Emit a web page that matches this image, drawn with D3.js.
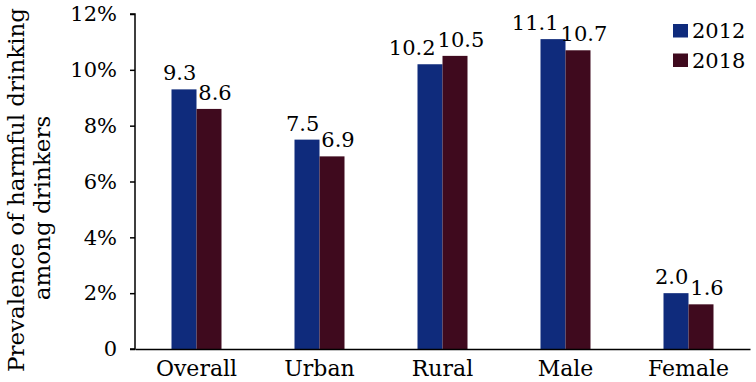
<!DOCTYPE html>
<html>
<head>
<meta charset="utf-8">
<script src="https://cdn.jsdelivr.net/npm/d3@7"></script>
<style>
  body { margin: 0; background: #fff; }
  svg text { font-family: "DejaVu Serif", serif; fill: #000; }
</style>
</head>
<body>
<div id="chart"></div>
<script>
'use strict';

// data
const categories = ['Overall', 'Urban', 'Rural', 'Male', 'Female'];
const years = ['2012', '2018'];
const values2012 = [9.3, 7.5, 10.2, 11.1, 2.0];
const values2018 = [8.6, 6.9, 10.5, 10.7, 1.6];
const yTicks = [0, 2, 4, 6, 8, 10, 12];
const colors = ['#0f2b7c', '#3f0a1e'];

const svgWidth = 756, svgHeight = 382;
const margin = [14, 33, 135, 6]; // top, bottom, left, right
const chartWidth = svgWidth - margin[2] - margin[3];
const chartHeight = svgHeight - margin[0] - margin[1];

const svg = d3.select('#chart').append('svg')
    .attr('width', svgWidth)
    .attr('height', svgHeight);

const chart = svg.append('g')
    .attr('transform', `translate(${margin[2]},${margin[0]})`);

const scaleX = d3.scaleBand(categories, [0, chartWidth]);
const scaleY = d3.scaleLinear([0, 12], [chartHeight, 0]);
const barW = 25;
const numSize = '21px', wordSize = '22px';

// bars, one group per year
const series = [values2012, values2018];
const labels = [];
series.forEach((vals, s) => {
    const xOff = s === 0 ? -barW : 0;
    chart.selectAll(null)
        .data(vals)
        .join('rect')
        .attr('x', (d, i) => scaleX(categories[i]) + scaleX.bandwidth() / 2 + xOff)
        .attr('y', d => scaleY(d))
        .attr('width', barW)
        .attr('height', d => chartHeight - scaleY(d))
        .attr('fill', colors[s]);

    labels.push(chart.selectAll(null)
        .data(vals)
        .join('text')
        .attr('x', (d, i) => scaleX(categories[i]) + scaleX.bandwidth() / 2 + xOff + barW / 2 + (s === 1 ? 6 : 0))
        .attr('y', d => scaleY(d) - 9)
        .attr('text-anchor', 'middle')
        .style('font-size', numSize)
        .text(d => d.toFixed(1)));
});

// nudge the 2012 label left when it would run into the 2018 label
const first = labels[0].nodes(), second = labels[1].nodes();
first.forEach((n, i) => {
    const a = n.getBBox(), b = second[i].getBBox();
    const vOverlap = a.y < b.y + b.height - 4 && b.y < a.y + a.height - 4;
    const overlap = a.x + a.width + 2 - b.x;
    if (vOverlap && overlap > 0) {
        d3.select(n).attr('x', +d3.select(n).attr('x') - overlap);
    }
});

// y axis
const axisY = chart.append('g')
    .call(d3.axisLeft(scaleY).tickValues(yTicks).tickSize(5).tickPadding(13)
        .tickFormat(d => d === 0 ? '0' : d + '%'));
axisY.select('.domain').attr('d', `M-5,${chartHeight}H0V0H-5`).attr('stroke', '#000').attr('stroke-width', 1.5);
axisY.selectAll('.tick line').attr('stroke-width', 1.5);
axisY.selectAll('text').style('font-size', numSize).attr('font-family', null);

// x axis
const axisX = chart.append('g')
    .attr('transform', `translate(0,${chartHeight})`)
    .call(d3.axisBottom(scaleX).tickSize(0));
axisX.select('.domain').attr('stroke', '#000').attr('stroke-width', 1.5);
axisX.selectAll('text').style('font-size', wordSize).attr('font-family', null)
    .attr('y', 27).attr('dy', null);

// y axis title, two lines
svg.append('text')
    .attr('transform', `translate(24,190) rotate(-90)`)
    .attr('text-anchor', 'middle')
    .style('font-size', '23px')
    .text('Prevalence of harmful drinking');
svg.append('text')
    .attr('transform', `translate(50,208) rotate(-90)`)
    .attr('text-anchor', 'middle')
    .style('font-size', '23px')
    .text('among drinkers');

// legend
const legend = svg.append('g').attr('transform', 'translate(673,24)');
years.forEach((y, i) => {
    const g = legend.append('g').attr('transform', `translate(0,${i * 29.5})`);
    g.append('rect').attr('width', 15).attr('height', 13.5).attr('fill', colors[i]);
    g.append('text').attr('x', 19).attr('y', 14).style('font-size', numSize).text(y);
});
</script>
</body>
</html>
